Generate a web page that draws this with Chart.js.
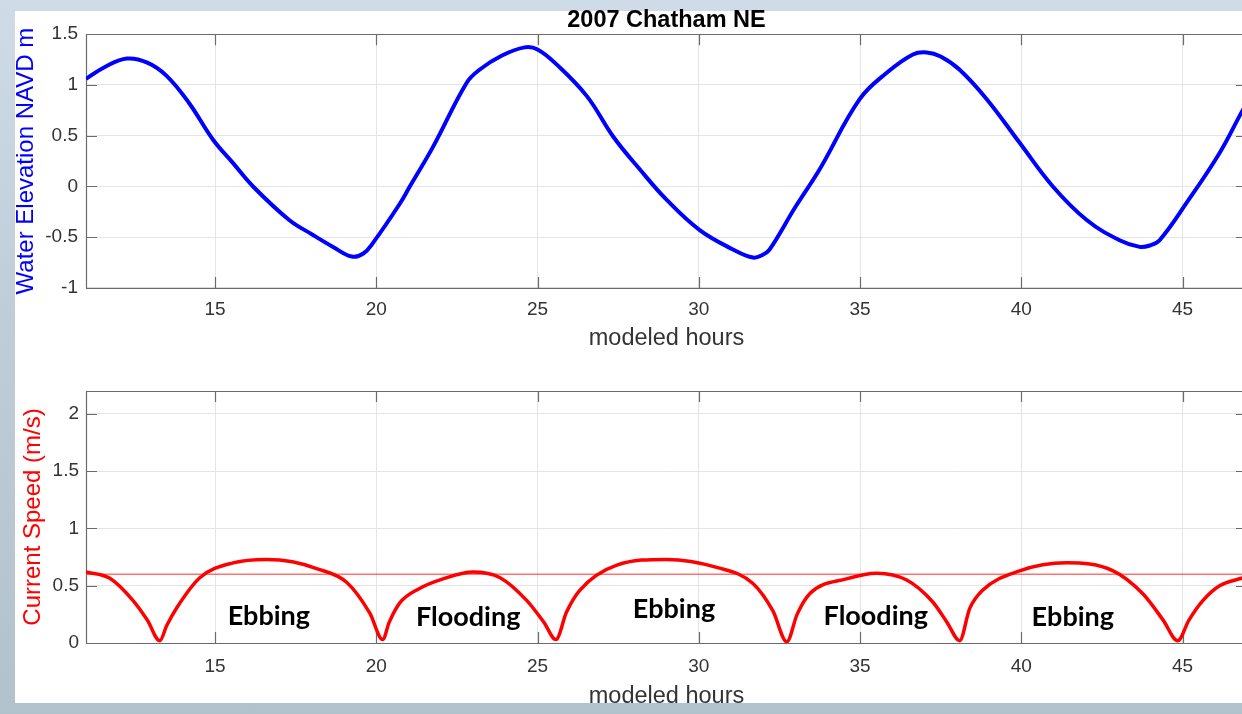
<!DOCTYPE html>
<html lang="en">
<head>
<meta charset="UTF-8">
<title>2007 Chatham NE</title>
<script src="https://cdn.jsdelivr.net/npm/chart.js"></script>
<style>
    html, body { margin: 0; padding: 0; width: 1242px; height: 714px; overflow: hidden; }
    body { position: relative; background: linear-gradient(180deg, #cfdce7 0%, #bfcdd8 45%, #b2c2cd 100%); }
    .panel { position: absolute; left: 15px; top: 11px; width: 1227px; height: 692px; background: #fff; }
    canvas { position: absolute; left: 0; }
    #elevChart { top: 0; }
    #speedChart { top: 360px; }
</style>
</head>
<body>
<div class="panel"></div>
<canvas id="elevChart" width="1260" height="360"></canvas>
<canvas id="speedChart" width="1260" height="354"></canvas>

<script>
    // axis ranges and ticks
    const hourMin = 11;
    const hourMax = 47;
    const hourTicks = [15, 20, 25, 30, 35, 40, 45];
    const elevTicks = [-1, -0.5, 0, 0.5, 1, 1.5];
    const speedTicks = [0, 0.5, 1, 1.5, 2];

    // water elevation (m, NAVD)
    const elevHours = [11.0, 11.6, 12.27, 12.9, 13.5, 14.2, 14.94, 15.56, 16.18, 17.3, 18.0, 18.66, 19.24, 19.6, 19.9,
        20.73, 21.04, 21.76, 22.8, 23.2, 23.9, 24.6, 25.0, 25.6, 26.53, 27.35, 28.17, 29.0, 30.03, 31.06, 31.68,
        32.0, 32.2, 33.0, 33.75, 34.99, 35.83, 36.64, 37.07, 37.5, 38.09, 38.93, 39.95, 40.98, 42.03, 43.05,
        43.67, 44.0, 44.29, 45.13, 46.15, 46.83, 47.0];
    const elevValues = [1.06, 1.18, 1.26, 1.22, 1.09, 0.82, 0.46, 0.23, 0.0, -0.33, -0.47, -0.595, -0.69, -0.66, -0.555,
        -0.17, 0.0, 0.39, 1.02, 1.15, 1.29, 1.37, 1.35, 1.2, 0.89, 0.49, 0.17, -0.13, -0.43, -0.62, -0.70,
        -0.67, -0.62, -0.2, 0.17, 0.86, 1.12, 1.30, 1.32, 1.28, 1.15, 0.86, 0.43, 0.0, -0.33, -0.53,
        -0.595, -0.58, -0.53, -0.16, 0.33, 0.73, 0.82];

    // current speed (m/s)
    const speedHours = [11.0, 11.74, 12.46, 12.9, 13.29, 13.5, 13.82, 14.53, 15.56, 16.6, 17.4, 18.15, 19.08, 19.8, 20.2,
        20.4, 20.73, 21.3, 22.07, 23.0, 23.84, 24.67, 25.2, 25.57, 25.9, 26.31, 27.46, 29.0, 30.56, 31.68, 32.3,
        32.73, 33.05, 33.44, 34.58, 35.52, 36.45, 37.25, 37.7, 38.09, 38.4, 38.8, 39.95, 41.4, 42.85, 43.77,
        44.4, 44.85, 45.2, 45.63, 46.15, 46.83, 47.0];
    const speedValues = [0.62, 0.565, 0.37, 0.2, 0.02, 0.15, 0.31, 0.57, 0.70, 0.73, 0.71, 0.65, 0.53, 0.26, 0.03,
        0.18, 0.35, 0.47, 0.56, 0.62, 0.57, 0.37, 0.18, 0.03, 0.27, 0.46, 0.68, 0.73, 0.66, 0.52, 0.28,
        0.01, 0.25, 0.43, 0.56, 0.61, 0.55, 0.36, 0.18, 0.02, 0.3, 0.46, 0.63, 0.70, 0.63, 0.43,
        0.2, 0.02, 0.2, 0.37, 0.50, 0.565, 0.58];
    const speedThreshold = 0.6;

    // tide phase labels
    const phaseText = ['Ebbing', 'Flooding', 'Ebbing', 'Flooding', 'Ebbing'];
    const phaseHours = [16.67, 22.85, 29.23, 35.49, 41.6];
    const phaseSpeeds = [0.155, 0.15, 0.215, 0.16, 0.15];

    Chart.defaults.font.family = '"Liberation Sans", Arial, Helvetica, sans-serif';
    Chart.defaults.color = '#333';

    const toPoints = (xs, ys) => xs.map((h, i) => ({ x: h, y: ys[i] }));
    const tickLen = 11;

    // MATLAB style box with inward ticks on all sides
    const matlabAxes = {
        id: 'matlabAxes',
        beforeDatasetsDraw(chart) {
            const { ctx, chartArea: a, scales: { x, y } } = chart;
            ctx.save();
            ctx.strokeStyle = '#6b6b6b';
            ctx.lineWidth = 1.2;
            ctx.beginPath();
            x.ticks.forEach(t => {
                const px = Math.round(x.getPixelForValue(t.value)) + 0.5;
                ctx.moveTo(px, a.top); ctx.lineTo(px, a.top + tickLen);
                ctx.moveTo(px, a.bottom); ctx.lineTo(px, a.bottom - tickLen);
            });
            y.ticks.forEach(t => {
                const py = Math.round(y.getPixelForValue(t.value)) + 0.5;
                ctx.moveTo(a.left, py); ctx.lineTo(a.left + tickLen, py);
                ctx.moveTo(a.right, py); ctx.lineTo(a.right - tickLen, py);
            });
            ctx.rect(Math.round(a.left) + 0.5, Math.round(a.top) + 0.5, a.right - a.left, a.bottom - a.top);
            ctx.stroke();
            ctx.restore();
        }
    };

    const phaseLabels = {
        id: 'phaseLabels',
        afterDatasetsDraw(chart) {
            const { ctx, scales: { x, y } } = chart;
            ctx.save();
            ctx.font = 'bold 27px Lato, "Open Sans", sans-serif';
            ctx.fillStyle = '#000';
            ctx.textAlign = 'center';
            ctx.textBaseline = 'alphabetic';
            phaseText.forEach((txt, i) => {
                ctx.fillText(txt, x.getPixelForValue(phaseHours[i]), y.getPixelForValue(phaseSpeeds[i]));
            });
            ctx.restore();
        }
    };

    function xScale(titlePad, tickPad) {
        return {
            type: 'linear',
            min: hourMin,
            max: hourMax,
            afterBuildTicks: s => { s.ticks = hourTicks.map(v => ({ value: v })); },
            afterFit: s => { s.height = 70; },
            grid: { color: '#e4e4e4', drawTicks: false },
            border: { display: false },
            ticks: { font: { size: 19 }, padding: tickPad, color: '#333', maxRotation: 0, callback: v => String(v) },
            title: { display: true, text: 'modeled hours', font: { size: 23.5 }, color: '#333', padding: { top: 0, bottom: titlePad } }
        };
    }

    function yScale(min, max, ticks, label, color, titlePad, tickPad) {
        return {
            type: 'linear',
            min: min,
            max: max,
            afterBuildTicks: s => { s.ticks = ticks.map(v => ({ value: v })); },
            afterFit: s => { s.width = 86; },
            grid: { color: '#e4e4e4', drawTicks: false },
            border: { display: false },
            ticks: { font: { size: 19 }, padding: tickPad, color: '#333', callback: v => String(v) },
            title: { display: true, text: label, font: { size: 24 }, color: color, padding: { top: titlePad, bottom: 0 } }
        };
    }

    new Chart(document.getElementById('elevChart'), {
        type: 'line',
        data: {
            datasets: [{
                data: toPoints(elevHours, elevValues),
                borderColor: '#0000ff',
                borderWidth: 4,
                pointRadius: 0,
                tension: 0.4,
                borderJoinStyle: 'round'
            }]
        },
        options: {
            responsive: false,
            animation: false,
            layout: { padding: { left: 0, right: 13, top: 0, bottom: 2 } },
            plugins: {
                legend: { display: false },
                tooltip: { enabled: false },
                title: {
                    display: true,
                    fullSize: false,
                    text: '2007 Chatham NE',
                    color: '#000',
                    font: { size: 23.5, weight: 'bold' },
                    padding: { top: 6, bottom: 0 }
                }
            },
            scales: {
                x: xScale(5, 10),
                y: yScale(-1, 1.5, elevTicks, 'Water Elevation NAVD m', '#0000ff', 12, 8)
            }
        },
        plugins: [matlabAxes]
    });

    new Chart(document.getElementById('speedChart'), {
        type: 'line',
        data: {
            datasets: [{
                data: toPoints(speedHours, speedValues),
                borderColor: '#ff0000',
                borderWidth: 3.5,
                pointRadius: 0,
                cubicInterpolationMode: 'monotone',
                borderJoinStyle: 'round'
            }, {
                data: [{ x: hourMin, y: speedThreshold }, { x: hourMax, y: speedThreshold }],
                borderColor: 'rgba(255, 40, 40, 0.65)',
                borderWidth: 1.6,
                pointRadius: 0
            }]
        },
        options: {
            responsive: false,
            animation: false,
            layout: { padding: { left: 0, right: 13, top: 31, bottom: 1 } },
            plugins: {
                legend: { display: false },
                tooltip: { enabled: false }
            },
            scales: {
                x: xScale(2, 12),
                y: yScale(0, 2.2, speedTicks, 'Current Speed (m/s)', '#ff0000', 19, 7)
            }
        },
        plugins: [matlabAxes, phaseLabels]
    });
</script>
</body>
</html>
